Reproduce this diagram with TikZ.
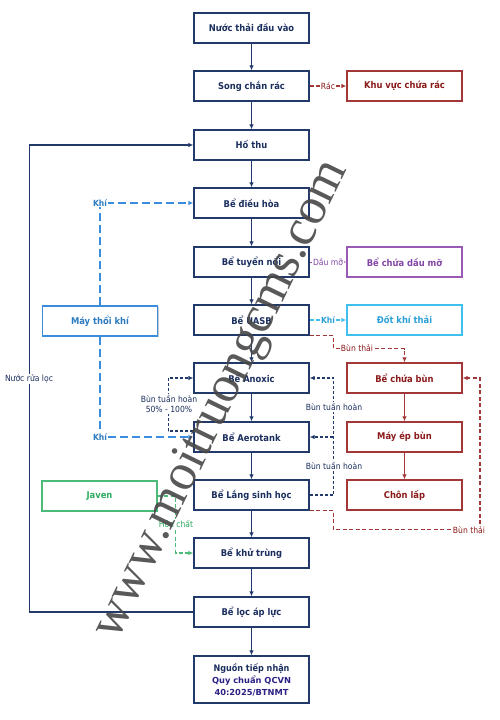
\documentclass[tikz,border=0pt]{standalone}
\usepackage{fontspec}
\setmainfont{DejaVu Sans Condensed}
\newfontfamily\notob{DejaVu Sans}
\newfontfamily\wmfont{Liberation Serif}
\usetikzlibrary{arrows.meta,shadows,calc}
\definecolor{cNavy}{HTML}{22396B}
\definecolor{cNavyT}{HTML}{1B2F5E}
\definecolor{cRed}{HTML}{A33636}
\definecolor{cRedT}{HTML}{8B1A1A}
\definecolor{cPur}{HTML}{9B59B6}
\definecolor{cPurT}{HTML}{8446A6}
\definecolor{cCyan}{HTML}{3FC0EC}
\definecolor{cCyanT}{HTML}{2A9FD6}
\definecolor{cBlue}{HTML}{3A8DDE}
\definecolor{cBlueT}{HTML}{2C7BC0}
\definecolor{cGreen}{HTML}{4CBB7A}
\definecolor{cGreenT}{HTML}{2EAA5E}
\definecolor{cInd}{HTML}{2B2185}
\tikzset{
  basebox/.style={draw, line width=1.3pt, fill=white, minimum width=115pt, minimum height=30pt,
    inner sep=0pt, align=center, font=\bfseries\fontsize{9.3}{11}\selectfont,
    drop shadow={shadow xshift=1.3pt, shadow yshift=-1.3pt, fill=black, opacity=0.22}},
  mainb/.style={basebox, draw=cNavy, text=cNavyT},
  redb/.style={basebox, draw=cRed, text=cRedT},
  purb/.style={basebox, draw=cPur, text=cPurT},
  cyanb/.style={basebox, draw=cCyan, text=cCyanT},
  blueb/.style={basebox, draw=cBlue, text=cBlueT},
  greenb/.style={basebox, draw=cGreen, text=cGreenT},
  tip/.style={-{Latex[length=5pt,width=4.5pt]}},
  mainflow/.style={tip, draw=cNavy, line width=1.1pt},
  redflow/.style={tip, draw=cRed, line width=1.1pt},
  reddash/.style={tip, draw=cRed, line width=1.1pt, dash pattern=on 4pt off 2.5pt},
  navydash/.style={tip, draw=cNavy, line width=1.1pt, dash pattern=on 3pt off 2pt},
  bluedash/.style={tip, draw=cBlue, line width=1.4pt, dash pattern=on 8pt off 4pt},
  lbl/.style={fill=white, inner sep=1pt, font=\fontsize{8.5}{10}\selectfont, align=center},
  blbl/.style={lbl, font=\bfseries\fontsize{8.5}{10}\selectfont}
}
\begin{document}
\begin{tikzpicture}[x=1pt,y=-1pt]
\useasboundingbox (0,0) rectangle (500,720);
\fill[white] (0,0) rectangle (500,720);
% main column
\node[mainb] (n1) at (251.5,28) {Nước thải đầu vào};
\node[mainb] (n2) at (251.5,86) {Song chắn rác};
\node[mainb] (n3) at (251.5,145) {Hố thu};
\node[mainb] (n4) at (251.5,203) {Bể điều hòa};
\node[mainb] (n5) at (251.5,262) {Bể tuyển nổi};
\node[mainb] (n6) at (251.5,320) {Bể UASB};
\node[mainb] (n7) at (251.5,378) {Bể Anoxic};
\node[mainb] (n8) at (251.5,437) {Bể Aerotank};
\node[mainb] (n9) at (251.5,495) {Bể Lắng sinh học};
\node[mainb] (n10) at (251.5,553) {Bể khử trùng};
\node[mainb] (n11) at (251.5,612) {Bể lọc áp lực};
\node[mainb, minimum height=47pt, font=\bfseries\fontsize{9}{12}\selectfont] (n12) at (251.5,679.5)
  {Nguồn tiếp nhận\\{\notob\bfseries\fontsize{8.3}{12}\selectfont\color{cInd}Quy chuẩn QCVN}\\{\notob\bfseries\fontsize{8.3}{12}\selectfont\color{cInd}40:2025/BTNMT}};
% right column
\node[redb] (rac) at (404.5,86) {Khu vực chứa rác};
\node[purb] (daumo) at (404.5,262) {Bể chứa dầu mỡ};
\node[cyanb] (dot) at (404.5,320) {Đốt khí thải};
\node[redb] (chuabun) at (404.5,378) {Bể chứa bùn};
\node[redb] (mayep) at (404.5,437) {Máy ép bùn};
\node[redb] (chonlap) at (404.5,495) {Chôn lấp};
% left column
\node[blueb] (may) at (100,321) {Máy thổi khí};
\node[greenb] (javen) at (99.5,496) {Javen};
% main flow
\foreach \a/\b in {n1/n2,n2/n3,n3/n4,n4/n5,n5/n6,n6/n7,n7/n8,n8/n9,n9/n10,n10/n11,n11/n12}
  \draw[mainflow] (\a) -- (\b);
% sludge line
\draw[redflow] (chuabun) -- (mayep);
\draw[redflow] (mayep) -- (chonlap);
% side branches
\draw[reddash] (n2.east) -- (rac.west) node[lbl, midway, text=cRedT] {Rác};
\draw[tip, draw=cPur, line width=1pt, dash pattern=on 3pt off 2pt] (n5.east) -- (daumo.west)
  node[lbl, midway, text=cPurT] {Dầu mỡ};
\draw[tip, draw=cCyan, line width=1.1pt, dash pattern=on 4pt off 2.5pt] (n6.east) -- (dot.west)
  node[blbl, midway, text=cCyanT] {Khí};
\draw[reddash] (n6.south east) -- ++(24,0) -- ++(0,13) -| (chuabun.north);
\node[lbl, text=cRedT] (lb1) at (357,348) {Bùn thải};
% air
\draw[bluedash] (may.north) |- (n4.west)
  node[blbl, pos=0.5, text=cBlueT] {Khí};
\draw[bluedash] (may.south) |- (n8.west)
  node[blbl, pos=0.5, text=cBlueT] {Khí};
% internal recirculation
\coordinate (r1) at ($(n8.west)+(0,-6)$);
\draw[navydash] (r1) -- ++(-25,0) |- (n7.west);
\node[lbl, text=cNavyT] (lb2) at (169,404) {Bùn tuần hoàn\\50\% - 100\%};
% return sludge
\coordinate (r2) at (333,437);
\draw[navydash] (n9.east) -- ++(24,0) |- (n7.east);
\draw[navydash] (r2) -- (n8.east);
\node[lbl, text=cNavyT] (lb3) at (334,407) {Bùn tuần hoàn};
\node[lbl, text=cNavyT] (lb4) at (334,466) {Bùn tuần hoàn};
% waste sludge
\coordinate (r3) at (480,378);
\draw[reddash] (n9.south east) -- ++(24,0) -- ++(0,19) -| (r3) -- (chuabun.east);
\node[lbl, text=cRedT] (lb5) at (469,530) {Bùn thải};
% chemical
\draw[tip, draw=cGreen, line width=1.1pt, dash pattern=on 4pt off 2.5pt] (javen.east) -- ++(18,0) |- (n10.west);
\node[lbl, text=cGreenT] (lb6) at (176,524) {Hóa chất};
% backwash
\draw[mainflow, line width=1.3pt] (n11.west) -- ++(-164,0) |- (n3.west);
\node[lbl, text=cNavyT] (lb7) at (29,379) {Nước rửa lọc};
% watermark
\node[text=black!72, opacity=0.9, rotate=64, font=\wmfont\fontsize{52}{52}\selectfont, inner sep=0pt]
  (wm) at (222,400) {www.moitruongcms.com};
\end{tikzpicture}
\end{document}
